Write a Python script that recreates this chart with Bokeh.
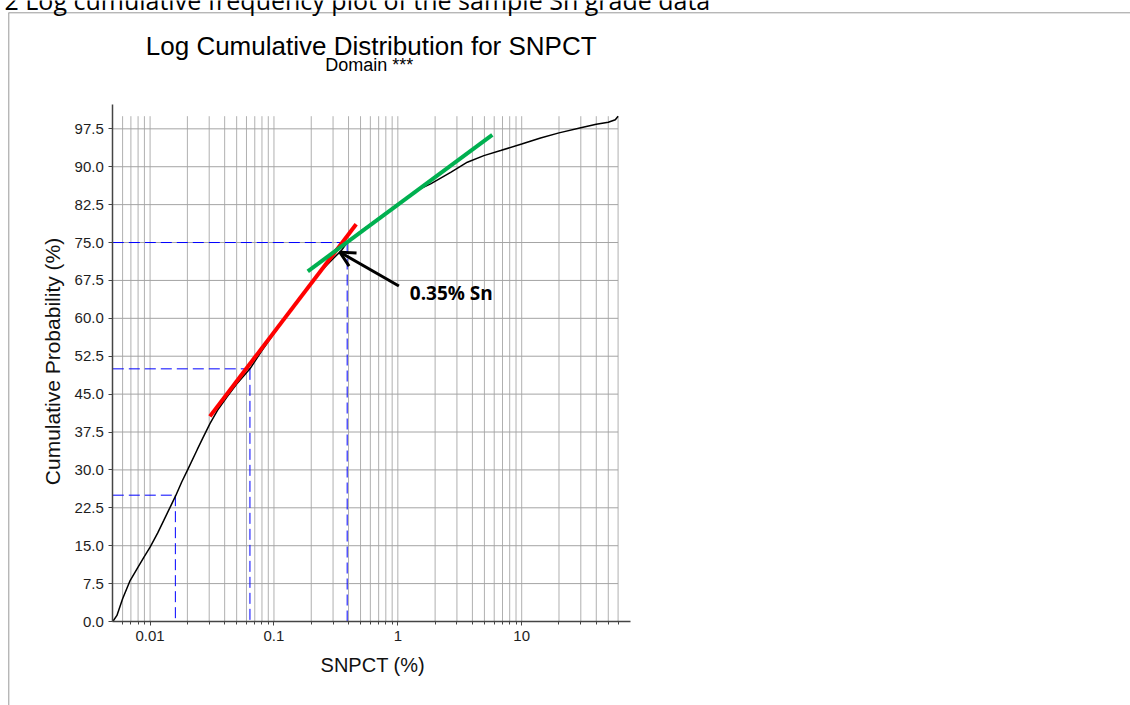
import math
from bokeh.plotting import figure
from bokeh.models import Range1d, FixedTicker, Label, Arrow, OpenHead
from bokeh.embed import file_html
from bokeh.resources import INLINE

# ---------------- data ----------------
grade = [0.0050, 0.0054, 0.0060, 0.0069, 0.0078, 0.0089, 0.0100, 0.0115, 0.0129, 0.0145,
         0.0161, 0.0180, 0.0200, 0.0240, 0.0265, 0.0305, 0.0350, 0.0420, 0.0500, 0.0640,
         0.0800, 0.100, 0.130, 0.160, 0.200, 0.250, 0.300, 0.350, 0.390, 0.500,
         0.700, 1.00, 1.50, 1.84, 2.67, 3.64, 4.95, 6.76, 10.0, 14.2,
         20.0, 30.0, 40.0, 50.0, 57.0, 60.0]
cum_prob = [0.0, 1.2, 4.5, 8.1, 10.3, 12.7, 14.7, 17.5, 20.0, 22.6,
            24.9, 27.6, 29.9, 34.0, 36.2, 39.2, 41.8, 44.5, 47.0, 50.0,
            53.6, 57.0, 60.8, 64.0, 67.0, 69.8, 71.8, 73.4, 75.0, 77.2,
            79.8, 82.6, 85.6, 86.6, 88.9, 90.9, 92.2, 93.2, 94.5, 95.7,
            96.7, 97.7, 98.4, 98.8, 99.3, 100.0]

quartile_prob = [25.0, 50.0, 75.0]
quartile_grade = [0.016, 0.064, 0.39]

fit_low_grade = [0.0304, 0.461]
fit_low_prob = [40.6, 78.6]
fit_high_grade = [0.1875, 5.79]
fit_high_prob = [69.3, 96.3]

arrow_from = (1.02, 66.4)
arrow_to = (0.34, 73.1)
cutoff_text = "0.35% Sn"

x_major_ticks = [0.01, 0.1, 1, 10]
x_tick_labels = ["0.01", "0.1", "1", "10"]
x_minor_ticks = [0.006, 0.007, 0.008, 0.009,
                 0.02, 0.03, 0.04, 0.05, 0.06, 0.07, 0.08, 0.09,
                 0.2, 0.3, 0.4, 0.5, 0.6, 0.7, 0.8, 0.9,
                 2, 3, 4, 5, 6, 7, 8, 9,
                 20, 30, 40, 50, 60]
y_ticks = [0.0, 7.5, 15.0, 22.5, 30.0, 37.5, 45.0, 52.5, 60.0, 67.5, 75.0, 82.5, 90.0, 97.5]
y_tick_labels = ["0.0", "7.5", "15.0", "22.5", "30.0", "37.5", "45.0", "52.5",
                 "60.0", "67.5", "75.0", "82.5", "90.0", "97.5"]

caption_text = "2 Log cumulative frequency plot of the sample Sn grade data"
title_text = "Log Cumulative Distribution for SNPCT"
subtitle_text = "Domain ***"
x_label = "SNPCT (%)"
y_label = "Cumulative Probability (%)"

# ---------------- layout (pixel geometry of the page) ----------------
W, H = 1130, 705
X_AXIS_MIN = 0.005          # value at the y axis
AX_LEFT_PX = 112.3          # page x of the y axis
PX_PER_DECADE = 123.87
AX_BOTTOM_PX = 621.0        # page y of the x axis (value 0)
PX_PER_UNIT = 5.053
MID_SANS = 0.347            # baseline -> em-middle offset (Liberation Sans)
MID_OPEN = 0.388            # baseline -> em-middle offset (Open Sans)


def px_x(px):
    return X_AXIS_MIN * 10 ** ((px - AX_LEFT_PX) / PX_PER_DECADE)


def px_y(py):
    return (AX_BOTTOM_PX - py) / PX_PER_UNIT


GRID_X_MAX, GRID_Y_MAX = 60.0, 100.0

p = figure(width=W, height=H, x_axis_type="log",
           x_range=Range1d(px_x(0), px_x(W)), y_range=Range1d(px_y(H), px_y(0)),
           min_border=0, output_backend="svg", toolbar_location=None,
           outline_line_color=None, background_fill_color="white",
           border_fill_color="white")
p.xgrid.visible = False
p.ygrid.visible = False

AX_COL = "#444444"
LBL_COL = "#1e1e1e"

xa = p.xaxis[0]
xa.fixed_location = 0.0
xa.bounds = (X_AXIS_MIN, px_x(630))
xa.ticker = FixedTicker(ticks=x_major_ticks, minor_ticks=x_minor_ticks)
xa.major_label_overrides = {t: s for t, s in zip(x_major_ticks, x_tick_labels)}
xa.axis_line_color = AX_COL
xa.axis_line_width = 1.5
xa.major_tick_in = 0
xa.major_tick_out = 4
xa.minor_tick_in = 0
xa.minor_tick_out = 3
xa.major_tick_line_color = AX_COL
xa.minor_tick_line_color = AX_COL
xa.major_label_text_font = "Liberation Sans"
xa.major_label_text_font_size = "15px"
xa.major_label_text_color = LBL_COL
xa.major_label_standoff = 5

ya = p.yaxis[0]
ya.fixed_location = X_AXIS_MIN
ya.bounds = (0.0, px_y(104))
ya.ticker = FixedTicker(ticks=y_ticks)
ya.major_label_overrides = {t: s for t, s in zip(y_ticks, y_tick_labels)}
ya.axis_line_color = AX_COL
ya.axis_line_width = 1.5
ya.major_tick_in = 0
ya.major_tick_out = 4
ya.minor_tick_in = 0
ya.minor_tick_out = 0
ya.major_tick_line_color = AX_COL
ya.major_label_text_font = "Liberation Sans"
ya.major_label_text_font_size = "15px"
ya.major_label_text_color = LBL_COL
ya.major_label_standoff = 5

# document frame lines (page decoration)
FRAME_COL = "#999999"
p.segment(x0=[px_x(8), px_x(8.3)], x1=[px_x(W + 5), px_x(8.3)],
          y0=[px_y(12.3), px_y(12.3)], y1=[px_y(12.3), px_y(H + 5)],
          line_color=FRAME_COL, line_width=1)

# grid lines (bounded to the data extent, as in the original)
vgrid = x_minor_ticks + x_major_ticks
p.segment(x0=vgrid, x1=vgrid, y0=[0.0] * len(vgrid), y1=[GRID_Y_MAX] * len(vgrid),
          line_color="#b0b0b0", line_width=1)
hgrid = y_ticks[1:]
p.segment(x0=[X_AXIS_MIN] * len(hgrid), x1=[GRID_X_MAX] * len(hgrid), y0=hgrid, y1=hgrid,
          line_color="#a4a4a4", line_width=1)

# quartile guide lines
p.segment(x0=[X_AXIS_MIN] * len(quartile_grade), x1=quartile_grade,
          y0=quartile_prob, y1=quartile_prob,
          line_color="#0000ff", line_width=1, line_dash="11 5")
p.segment(x0=quartile_grade, x1=quartile_grade,
          y0=quartile_prob, y1=[0.0] * len(quartile_grade),
          line_color="#0000ff", line_width=1, line_dash="11 5")

# cumulative curve
p.line(grade, cum_prob, line_color="black", line_width=1.5)

# fitted population lines
p.line(fit_low_grade, fit_low_prob, line_color="#ff0000", line_width=4)
p.line(fit_high_grade, fit_high_prob, line_color="#00b050", line_width=4)

# arrow + annotation
p.add_layout(Arrow(end=OpenHead(size=15, line_width=3, line_color="black"),
                   x_start=arrow_from[0], y_start=arrow_from[1],
                   x_end=arrow_to[0], y_end=arrow_to[1],
                   line_color="black", line_width=3))
p.add_layout(Label(x=px_x(409.3), y=px_y(300.0 - MID_OPEN * 19), text=cutoff_text,
                   text_font="Open Sans", text_font_style="bold", text_font_size="19px",
                   text_baseline="middle", text_align="left", text_color="black"))

# document caption (cut by the top of the page, as in the original)
p.add_layout(Label(x=px_x(4.0), y=px_y(9.0 - MID_OPEN * 25), text=caption_text,
                   text_font="Open Sans", text_font_size="25px", text_align="left",
                   text_baseline="middle", text_color="black"))

# chart titles
p.add_layout(Label(x=px_x(370.7), y=px_y(54.3 - MID_SANS * 26), text=title_text,
                   text_font="Liberation Sans", text_font_size="26px", text_align="center",
                   text_baseline="middle", text_color="black"))
p.add_layout(Label(x=px_x(368.8), y=px_y(70.7 - MID_SANS * 18), text=subtitle_text,
                   text_font="Liberation Sans", text_font_size="18px", text_align="center",
                   text_baseline="middle", text_color="black"))

# axis titles
p.add_layout(Label(x=px_x(372.3), y=px_y(671.0 - MID_SANS * 20), text=x_label,
                   text_font="Liberation Sans", text_font_size="20px", text_align="center",
                   text_baseline="middle", text_color="#111111"))
p.add_layout(Label(x=px_x(59.5 - MID_SANS * 21), y=px_y(361.0), text=y_label,
                   angle=math.pi / 2, text_font="Liberation Sans", text_font_size="21px",
                   text_align="center", text_baseline="middle", text_color="#111111"))

open("out.html", "w").write(file_html(p, INLINE))
